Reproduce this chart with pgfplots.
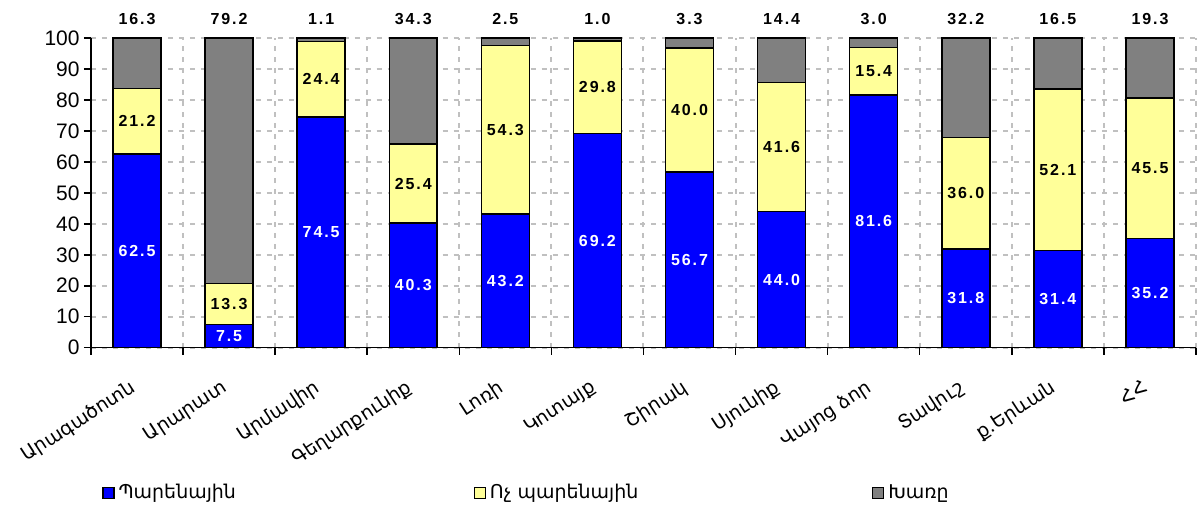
\documentclass[border=0pt]{standalone}
\usepackage{pgfplots}
\usepackage{pgfplotstable}
\pgfplotsset{compat=1.18}
\usepackage{fontspec}
\setmainfont{Liberation Sans}
\newfontfamily\arm{DejaVu Sans}
\newfontfamily\lab{Liberation Sans}[LetterSpace=12]
\definecolor{cblue}{RGB}{0,0,255}
\definecolor{cyellow}{RGB}{255,255,153}
\definecolor{cgray}{RGB}{128,128,128}
\definecolor{gridgray}{RGB}{192,192,192}
\pgfplotstableread{
x a b c
0 62.5 21.2 16.3
1 7.5 13.3 79.2
2 74.5 24.4 1.1
3 40.3 25.4 34.3
4 43.2 54.3 2.5
5 69.2 29.8 1.0
6 56.7 40.0 3.3
7 44.0 41.6 14.4
8 81.6 15.4 3.0
9 31.8 36.0 32.2
10 31.4 52.1 16.5
11 35.2 45.5 19.3
}\data
\begin{document}
\begin{tikzpicture}
\useasboundingbox (-45.5pt,-80.5pt) rectangle (553.5pt,174pt);
\begin{axis}[
  at={(0,0)}, anchor=south west,
  scale only axis, width=553pt, height=155pt,
  ybar stacked, bar width=24pt,
  xmin=-0.5, xmax=11.5, ymin=0, ymax=100,
  xtick={0,...,11},
  xticklabels={Արագածոտն,Արարատ,Արմավիր,Գեղարքունիք,Լոռի,Կոտայք,Շիրակ,Սյունիք,Վայոց ձոր,Տավուշ,ք.Երևան,ՀՀ},
  minor xtick={-0.5,0.5,...,11.5},
  ytick={0,10,...,100},
  axis x line*=bottom, axis y line*=left,
  axis line style={black, line width=0.75pt},
  tick align=outside,
  major tick length=3.5pt, minor tick length=3.5pt,
  tick style={black, line width=0.75pt},
  major x tick style={draw=none},
  xminorgrids, ymajorgrids,
  major grid style={gridgray, line width=1pt, dash pattern=on 2.5pt off 3pt},
  minor grid style={gridgray, line width=1pt, dash pattern=on 2.5pt off 3pt},
  /pgf/number format/assume math mode=true,
  yticklabel style={font=\fontsize{10.5}{11}\selectfont, inner sep=2pt},
  xticklabel style={font=\arm\fontsize{9.5}{10}\selectfont, rotate=33, anchor=north east, inner sep=1pt, xshift=-9pt, yshift=-6.5pt},
  legend columns=3,
  legend image code/.code={\draw[#1,draw=black,line width=0.6pt] (0pt,-2.75pt) rectangle (5.5pt,2.75pt);},
  legend style={at={(0,-0.468)}, anchor=west, xshift=5.5pt, draw=none, fill=none, inner sep=0pt,
    font=\arm\fontsize{9.5}{10}\selectfont,
    /tikz/column 2/.style={column sep=117pt},
    /tikz/column 4/.style={column sep=115pt}},
  nodes near coords={\pgfmathprintnumber[fixed,fixed zerofill,precision=1]{\pgfplotspointmeta}},
]
\addplot[fill=cblue, draw=black, line width=0.75pt,
  point meta=\thisrow{a},
  every node near coord/.append style={font=\lab\bfseries\fontsize{8}{9}\selectfont, text=white, anchor=center}]
  table[x=x, y=a] {\data};
\addlegendentry{Պարենային}
\addplot[fill=cyellow, draw=black, line width=0.75pt,
  point meta=\thisrow{b},
  every node near coord/.append style={font=\lab\bfseries\fontsize{8}{9}\selectfont, text=black, anchor=center}]
  table[x=x, y=b] {\data};
\addlegendentry{Ոչ պարենային}
\addplot[fill=cgray, draw=black, line width=0.75pt,
  point meta=\thisrow{c},
  visualization depends on={rawy \as \rawv},
  every node near coord/.append style={font=\lab\bfseries\fontsize{8}{9}\selectfont, text=black, anchor=south, yshift=0.775pt*\rawv+3pt}]
  table[x=x, y=c] {\data};
\addlegendentry{Խառը}
\end{axis}
\end{tikzpicture}
\end{document}
